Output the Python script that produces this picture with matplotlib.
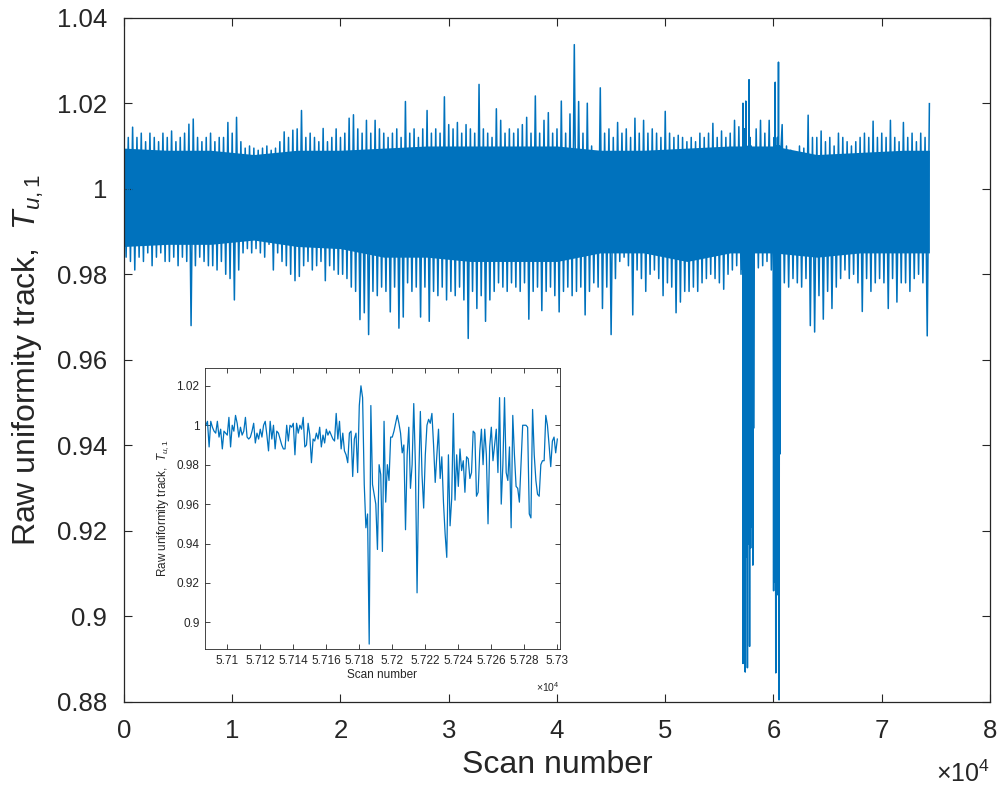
import numpy as np
import matplotlib
matplotlib.use("Agg")
import matplotlib.pyplot as plt
from matplotlib.ticker import FuncFormatter, MultipleLocator

plt.rcParams["font.family"] = ["Liberation Sans", "DejaVu Sans"]
plt.rcParams["mathtext.fontset"] = "custom"
plt.rcParams["mathtext.rm"] = "Liberation Sans"
plt.rcParams["mathtext.it"] = "Liberation Sans:italic"

BLUE = "#0072BD"
DARK = "#262626"

# main track, read per 400-scan bin: top of trace, then bottom of trace
bin_step = 400
main_hi = [
    1.011, 1.012, 1.0144, 1.012, 1.013, 1.011, 1.013, 1.012, 1.011, 1.013,
    1.012, 1.0135, 1.011, 1.012, 1.013, 1.0151, 1.0163, 1.012, 1.011, 1.012,
    1.013, 1.011, 1.012, 1.012, 1.0155, 1.013, 1.0167, 1.011, 1.0095, 1.010,
    1.0095, 1.009, 1.0095, 1.010, 1.009, 1.0095, 1.011, 1.0133, 1.012, 1.0137,
    1.014, 1.0183, 1.012, 1.013, 1.012, 1.011, 1.0141, 1.011, 1.012, 1.014,
    1.012, 1.013, 1.0165, 1.0173, 1.014, 1.013, 1.016, 1.013, 1.016, 1.014,
    1.013, 1.012, 1.013, 1.014, 1.012, 1.0204, 1.013, 1.014, 1.012, 1.014,
    1.0183, 1.013, 1.014, 1.013, 1.0215, 1.015, 1.014, 1.0155, 1.013, 1.015,
    1.014, 1.013, 1.0244, 1.014, 1.013, 1.012, 1.0187, 1.016, 1.013, 1.014,
    1.013, 1.014, 1.015, 1.0167, 1.013, 1.0217, 1.013, 1.016, 1.0178, 1.013,
    1.014, 1.0205, 1.013, 1.0175, 1.0337, 1.0204, 1.013, 1.020, 1.010, 1.0085,
    1.0236, 1.013, 1.014, 1.012, 1.0155, 1.013, 1.014, 1.012, 1.0165, 1.013,
    1.016, 1.013, 1.014, 1.013, 1.012, 1.0181, 1.013, 1.012, 1.0125, 1.012,
    1.011, 1.012, 1.011, 1.013, 1.012, 1.013, 1.0153, 1.012, 1.0135, 1.012,
    1.013, 1.016, 1.0145, 1.013, 1.014, 1.015, 1.014, 1.016, 1.013, 1.016,
    1.014, 1.013, 1.015, 1.010, 1.009, 1.008, 1.010, 1.0095, 1.0172, 1.012,
    1.012, 1.0135, 1.011, 1.012, 1.010, 1.013, 1.012, 1.011, 1.010, 1.011,
    1.012, 1.013, 1.012, 1.0158, 1.012, 1.013, 1.012, 1.016, 1.012, 1.011,
    1.0155, 1.012, 1.013, 1.011, 1.013, 1.012, 1.0199,
]
main_lo = [
    0.984, 0.983, 0.981, 0.984, 0.983, 0.985, 0.982, 0.984, 0.985, 0.983,
    0.983, 0.984, 0.982, 0.984, 0.983, 0.968, 0.982, 0.984, 0.983, 0.982,
    0.982, 0.981, 0.983, 0.980, 0.979, 0.974, 0.981, 0.985, 0.986, 0.985,
    0.986, 0.985, 0.984, 0.987, 0.981, 0.985, 0.983, 0.982, 0.980, 0.9785,
    0.9795, 0.982, 0.983, 0.981, 0.982, 0.983, 0.9785, 0.982, 0.981, 0.980,
    0.980, 0.979, 0.977, 0.976, 0.9694, 0.971, 0.9659, 0.976, 0.975, 0.977,
    0.976, 0.9712, 0.977, 0.9674, 0.970, 0.978, 0.976, 0.977, 0.970, 0.977,
    0.969, 0.976, 0.975, 0.977, 0.974, 0.976, 0.975, 0.977, 0.974, 0.965,
    0.976, 0.972, 0.975, 0.969, 0.974, 0.976, 0.978, 0.977, 0.976, 0.978,
    0.977, 0.976, 0.978, 0.9695, 0.976, 0.977, 0.9715, 0.976, 0.977, 0.975,
    0.9712, 0.976, 0.977, 0.975, 0.976, 0.977, 0.9705, 0.976, 0.978, 0.977,
    0.972, 0.977, 0.9659, 0.979, 0.983, 0.984, 0.982, 0.9705, 0.981, 0.979,
    0.976, 0.980, 0.981, 0.979, 0.975, 0.978, 0.977, 0.971, 0.9735, 0.976,
    0.976, 0.977, 0.976, 0.978, 0.979, 0.980, 0.979, 0.978, 0.9765, 0.980,
    0.981, 0.982, 0.980, 0.981, 0.982, 0.981, 0.9815, 0.982, 0.983, 0.981,
    0.980, 0.979, 0.978, 0.977, 0.979, 0.978, 0.977, 0.979, 0.968, 0.9665,
    0.975, 0.9695, 0.976, 0.972, 0.977, 0.979, 0.981, 0.979, 0.980, 0.978,
    0.9713, 0.979, 0.976, 0.978, 0.979, 0.978, 0.972, 0.979, 0.9735, 0.978,
    0.978, 0.976, 0.979, 0.980, 0.978, 0.9656,
]

# solid middle of the band, read every 4000 scans
core_scan = [0, 4000, 8000, 12000, 16000, 20000, 24000, 28000, 32000, 36000,
             40000, 44000, 48000, 52000, 56000, 60000, 64000, 68000, 72000, 74400]
core_top = [1.0095, 1.009, 1.009, 1.008, 1.009, 1.009, 1.0095, 1.010, 1.010, 1.010,
            1.010, 1.009, 1.009, 1.0095, 1.010, 1.010, 1.008, 1.0085, 1.009, 1.009]
core_bot = [0.9865, 0.987, 0.987, 0.988, 0.9865, 0.986, 0.984, 0.984, 0.983, 0.983,
            0.983, 0.985, 0.985, 0.983, 0.985, 0.985, 0.984, 0.985, 0.985, 0.985]

# the two deep drop-outs near 5.75e4 and 6.0e4
drop1_scan = [57340, 57390, 57440, 57490, 57540, 57590, 57640, 57690, 57740,
              57790, 57840, 57890, 57940, 57990, 58040, 58090, 58140, 58160]
drop1_val = [1.006, 0.887, 1.0205, 0.914, 1.010, 0.888, 1.008, 0.917, 1.0255,
             0.893, 1.012, 0.916, 1.010, 0.921, 1.008, 0.912, 1.004, 0.944]
drop2_scan = [59960, 60010, 60060, 60110, 60160, 60210, 60260, 60310, 60360,
              60410, 60460, 60510, 60560, 60610, 60660]
drop2_val = [1.006, 0.906, 1.012, 0.908, 1.0249, 0.8868, 1.010, 0.905, 1.012,
             0.907, 1.0296, 0.8805, 1.010, 0.938, 1.008]

# zoomed section, one value per scan from 57087
inset_start = 57087
inset_val = [
    1.000, 1.002, 0.989, 1.002, 0.999, 0.997, 0.996, 1.002, 0.994, 0.998,
    0.988, 0.997, 0.996, 0.995, 1.004, 0.989, 1.000, 0.997, 1.005, 1.001,
    0.994, 0.999, 0.995, 0.997, 1.004, 0.994, 0.993, 0.994, 0.997, 1.001,
    0.991, 0.996, 0.993, 0.998, 0.994, 1.000, 1.002, 0.995, 0.987, 1.002,
    0.993, 1.000, 0.988, 0.997, 0.996, 0.993, 0.990, 0.988, 0.988, 1.000,
    0.992, 1.000, 0.999, 1.001, 0.985, 1.001, 0.996, 1.000, 0.998, 1.004,
    0.989, 0.990, 1.001, 0.995, 0.981, 0.993, 0.992, 0.996, 0.993, 0.999,
    0.989, 0.995, 0.991, 0.998, 0.995, 0.997, 0.995, 0.993, 0.992, 1.006,
    0.993, 1.002, 0.988, 0.996, 0.987, 0.985, 0.981, 0.996, 0.997, 0.974,
    0.993, 0.996, 0.976, 1.010, 1.020, 1.014, 0.970, 0.948, 0.955, 0.889,
    1.010, 0.970, 0.965, 0.960, 0.937, 0.980, 0.975, 0.936, 1.002, 0.961,
    0.980, 0.972, 0.994, 0.994, 0.997, 1.001, 1.005, 1.001, 0.996, 0.986,
    0.990, 0.947, 0.985, 0.999, 0.968, 0.980, 1.011, 0.980, 0.915, 0.972,
    1.007, 0.975, 0.958, 0.985, 1.000, 1.003, 1.001, 1.006, 0.990, 0.971,
    0.985, 0.998, 0.973, 0.984, 0.961, 0.945, 0.933, 0.985, 0.949, 0.963,
    1.006, 0.962, 0.985, 0.969, 0.988, 0.977, 0.982, 0.966, 0.984, 0.983,
    0.973, 0.976, 0.997, 0.996, 0.964, 0.966, 0.987, 0.998, 0.980, 0.998,
    0.985, 0.950, 0.989, 0.999, 0.982, 0.990, 0.998, 0.976, 1.014, 0.960,
    0.980, 1.014, 0.976, 0.972, 0.989, 0.948, 1.005, 0.985, 0.969, 0.968,
    0.961, 0.981, 1.000, 1.000, 1.000, 0.999, 0.955, 0.953, 1.008, 0.985,
    0.972, 0.965, 0.964, 0.980, 0.982, 0.982, 1.005, 1.000, 0.990, 0.979,
    0.992, 0.994, 0.986, 0.993,
]

hi = np.array(main_hi)
lo = np.array(main_lo)
x_hi = np.arange(len(hi)) * bin_step
x_lo = np.arange(len(lo)) * bin_step + bin_step // 2
inset_x = inset_start + np.arange(len(inset_val))

xs = np.concatenate([x_hi, x_lo])
ys = np.concatenate([hi, lo])
keep = ~(((xs > 57050) & (xs < 58170)) | ((xs > 59930) & (xs < 60690)))
xs = np.concatenate([xs[keep], inset_x, drop1_scan, drop2_scan])
ys = np.concatenate([ys[keep], inset_val, drop1_val, drop2_val])
order = np.argsort(xs, kind="stable")

fig = plt.figure(figsize=(9.98, 7.89), dpi=100)
ax = fig.add_axes([0.1242, 0.1103, 0.8678, 0.8673])
ax.fill_between(core_scan, core_bot, core_top, color=BLUE, lw=0)
ax.plot(xs[order], ys[order], color=BLUE, lw=1.1)
ax.set_xlim(0, 80000)
ax.set_ylim(0.88, 1.04)
ax.xaxis.set_major_locator(MultipleLocator(10000))
ax.yaxis.set_major_locator(MultipleLocator(0.02))
ax.xaxis.set_major_formatter(FuncFormatter(lambda v, p: f"{v / 1e4:g}"))
ax.yaxis.set_major_formatter(FuncFormatter(lambda v, p: f"{v:g}"))
ax.tick_params(direction="in", top=True, right=True, length=6, width=0.8,
               colors=DARK, labelsize=18.5, pad=12)
for s in ax.spines.values():
    s.set_color(DARK)
    s.set_linewidth(0.9)
ax.set_xlabel("Scan number", fontsize=23, color=DARK, labelpad=5)
ax.set_ylabel(r"Raw uniformity track,  $\mathit{T}_{\mathit{u},1}$", fontsize=23,
              color=DARK, labelpad=8)
ax.text(1.0, -0.105, r"$\times10^{4}$", transform=ax.transAxes, ha="right",
        va="center", fontsize=18, color=DARK)

# inset
axi = fig.add_axes([0.2054, 0.1774, 0.3557, 0.3561])
axi.plot(inset_x, inset_val, color=BLUE, lw=0.9)
axi.set_xlim(57086.5, 57301.6)
axi.set_ylim(0.8865, 1.029)
axi.xaxis.set_major_locator(MultipleLocator(20))
axi.yaxis.set_major_locator(MultipleLocator(0.02))
axi.xaxis.set_major_formatter(FuncFormatter(lambda v, p: f"{v / 1e4:g}"))
axi.yaxis.set_major_formatter(FuncFormatter(lambda v, p: f"{v:g}"))
axi.tick_params(direction="in", top=True, right=True, length=3.5, width=0.6,
                colors=DARK, labelsize=8.5, pad=4)
for s in axi.spines.values():
    s.set_color(DARK)
    s.set_linewidth(0.6)
axi.set_xlabel("Scan number", fontsize=8.5, color=DARK, labelpad=2)
axi.set_ylabel(r"Raw uniformity track,  $\mathit{T}_{\mathit{u},1}$", fontsize=8.5,
               color=DARK, labelpad=4)
axi.text(1.0, -0.135, r"$\times10^{4}$", transform=axi.transAxes, ha="right",
         va="center", fontsize=7.5, color=DARK)

fig.savefig("out.png", dpi=100)
